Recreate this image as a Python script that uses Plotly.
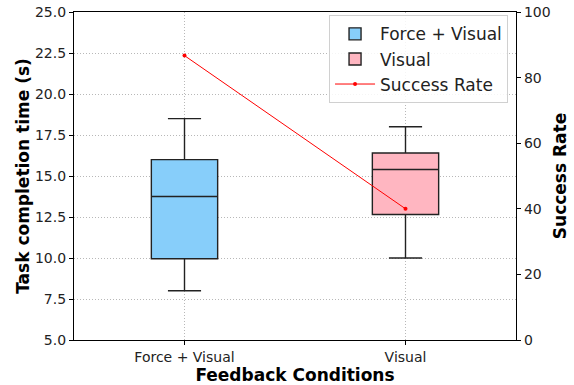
import plotly.graph_objects as go

# Feedback conditions and box statistics for task completion time (s)
conditions = ["Force + Visual", "Visual"]
positions = [1, 2]
q1 = [9.95, 12.65]
median = [13.75, 15.4]
q3 = [16.0, 16.4]
lower_whisker = [8.0, 10.0]
upper_whisker = [18.5, 18.0]
box_colors = ["#87CEFA", "#FFB6C1"]

# Success rate (%) per condition
success_rate = [86.7, 40.0]

FONT = "DejaVu Sans"
GRID = dict(showgrid=True, gridcolor="#b8b8b8", griddash="1px,2px", gridwidth=1)
TICKS = dict(ticks="outside", ticklen=4, tickcolor="black", tickwidth=1,
             tickfont=dict(family=FONT, size=14, color="#222222"))
TITLE_FONT = dict(family=FONT, size=17, color="black")

fig = go.Figure()

for i, name in enumerate(conditions):
    fig.add_trace(go.Box(
        x=[positions[i]],
        q1=[q1[i]], median=[median[i]], q3=[q3[i]],
        lowerfence=[lower_whisker[i]], upperfence=[upper_whisker[i]],
        name=name,
        width=0.3,
        whiskerwidth=0.5,
        fillcolor=box_colors[i],
        line=dict(color="#222222", width=1.4),
        boxpoints=False,
        hoverinfo="skip",
    ))

fig.add_trace(go.Scatter(
    x=positions, y=success_rate,
    name="Success Rate",
    mode="lines+markers",
    line=dict(color="red", width=1),
    marker=dict(color="red", size=4),
    yaxis="y2",
))

fig.update_layout(
    width=574, height=385,
    margin=dict(l=74, r=58, t=12, b=45),
    plot_bgcolor="white",
    paper_bgcolor="white",
    font=dict(family=FONT, size=14, color="#222222"),
    showlegend=True,
    legend=dict(
        x=0.982, y=0.99, xanchor="right", yanchor="top",
        bgcolor="rgba(255,255,255,0.85)",
        bordercolor="#d0d0d0", borderwidth=1,
        font=dict(family=FONT, size=17, color="#222222"),
        itemwidth=40,
    ),
    xaxis=dict(
        range=[0.5, 2.5],
        tickvals=positions, ticktext=conditions,
        showline=True, linecolor="black", linewidth=1.2, mirror=True,
        zeroline=False, automargin=False,
        title=dict(text="<b>Feedback Conditions</b>", font=TITLE_FONT, standoff=8),
        **GRID, **TICKS,
    ),
    yaxis=dict(
        range=[5, 25], dtick=2.5, tickformat=".1f",
        showline=True, linecolor="black", linewidth=1.2,
        zeroline=False, automargin=False,
        title=dict(text="<b>Task completion time (s)</b>", font=TITLE_FONT, standoff=0),
        **GRID, **TICKS,
    ),
    yaxis2=dict(
        range=[0, 100], dtick=20,
        overlaying="y", side="right",
        showline=True, linecolor="black", linewidth=1.2,
        showgrid=False, zeroline=False, automargin=False,
        title=dict(text="<b>Success Rate</b>", font=TITLE_FONT, standoff=4),
        **TICKS,
    ),
)

fig.write_html("out.html")
